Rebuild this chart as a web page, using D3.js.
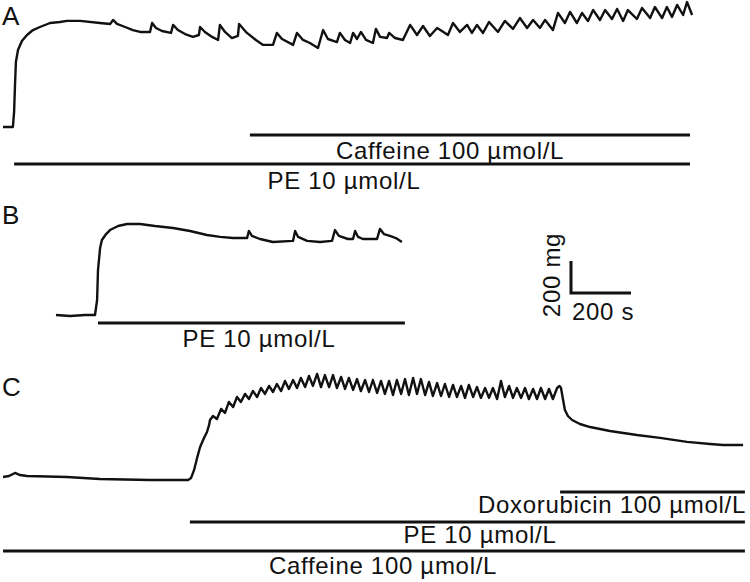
<!DOCTYPE html>
<html>
<head>
<meta charset="utf-8">
<script src="https://cdn.jsdelivr.net/npm/d3@7"></script>
<style>
  body { margin: 0; background: #fff; }
  text { font-family: "Liberation Sans", Arial, sans-serif; fill: #111; }
</style>
</head>
<body>
<svg id="fig" width="750" height="582"></svg>
<script>
// tension traces, [time (s), tension above resting baseline (mg)]
const traceA = [
    [0,0],[33,0],[37,94],[40,262],[43,406],[50,481],[63,538],[80,575],[100,606],[123,625],
    [157,650],[190,656],[213,663],[257,663],[323,650],[357,644],[367,669],[380,644],[407,625],[433,606],
    [457,594],[490,594],[497,650],[510,619],[530,600],[560,588],[567,638],[583,606],[607,581],[633,563],
    [653,575],[657,625],[673,594],[697,563],[717,544],[723,638],[740,594],[763,556],[783,569],[787,644],
    [813,588],[843,544],[867,513],[900,513],[913,588],[930,550],[967,513],[980,588],[1000,544],[1023,525],
    [1050,494],[1067,606],[1083,550],[1113,531],[1123,588],[1140,544],[1157,525],[1167,588],[1180,550],[1193,594],
    [1210,544],[1233,525],[1243,613],[1257,563],[1280,556],[1287,588],[1307,556],[1333,544],[1357,638],[1380,575],
    [1400,631],[1423,569],[1447,619],[1463,600],[1483,575],[1500,650],[1523,594],[1547,638],[1563,588],[1580,638],
    [1600,588],[1620,656],[1650,594],[1673,663],[1700,613],[1723,681],[1747,619],[1767,669],[1790,619],[1807,669],
    [1833,606],[1850,713],[1873,650],[1890,719],[1913,650],[1930,713],[1950,663],[1967,731],[1990,669],[2007,731],
    [2030,675],[2047,738],[2067,663],[2083,731],[2113,675],[2130,744],[2157,681],[2173,750],[2197,681],[2213,750],
    [2230,688],[2247,763],[2267,700],[2280,781],[2297,700]
];

const traceB = [
    [0,0],[47,-6],[97,0],[130,0],[137,94],[140,281],[147,419],[153,469],[167,506],[180,531],
    [207,556],[237,569],[280,569],[330,556],[390,544],[447,525],[503,500],[547,488],[590,481],[637,481],
    [643,525],[653,494],[680,475],[723,456],[790,463],[797,525],[807,488],[837,463],[880,456],[920,463],
    [930,531],[943,494],[973,475],[990,475],[997,525],[1007,488],[1023,475],[1070,475],[1080,538],[1093,506],
    [1113,494],[1133,481],[1153,456]
];

const traceC = [
    [0,19],[20,25],[40,44],[57,31],[80,25],[213,19],[323,6],[490,0],[617,0],[627,13],
    [637,63],[647,138],[657,206],[670,263],[680,300],[687,344],[690,375],
    [700,400],[713,381],[727,444],[740,419],[753,488],[767,456],[780,519],[793,488],
    [807,538],[820,506],[833,556],[847,519],[860,575],[873,538],[887,588],[900,550],
    [913,600],[927,556],[940,619],[953,569],[967,625],[980,575],[993,638],[1007,581],
    [1020,650],[1033,588],[1047,663],[1060,581],[1073,656],[1087,581],[1100,656],[1113,575],
    [1127,644],[1140,569],[1153,638],[1167,563],[1180,631],[1193,556],[1207,625],[1220,550],
    [1233,625],[1247,544],[1260,619],[1273,538],[1287,619],[1300,531],[1313,625],[1327,538],
    [1340,631],[1353,531],[1367,638],[1380,538],[1393,631],[1407,531],[1420,613],[1433,525],
    [1447,606],[1460,525],[1473,600],[1487,519],[1500,594],[1513,519],[1527,588],[1540,513],
    [1553,594],[1567,519],[1580,581],[1593,513],[1607,575],[1620,513],[1633,575],[1647,506],
    [1660,619],[1673,519],[1687,588],[1700,513],[1713,575],[1727,513],[1740,575],[1753,506],
    [1767,569],[1780,506],[1793,575],[1807,506],[1820,569],[1833,506],[1847,575],[1855,588],
    [1860,575],[1867,500],[1873,438],[1883,400],[1897,375],[1923,350],[1957,331],[2023,306],
    [2113,281],[2190,263],[2280,238],[2357,225],[2400,219],[2467,219]
];

// drug applications: label, start (s), end (s)
const drugsA = [["Caffeine 100 µmol/L", 823, 2290], ["PE 10 µmol/L", 37, 2290]];
const drugsB = [["PE 10 µmol/L", 140, 1163]];
const drugsC = [["Doxorubicin 100 µmol/L", 1857, 2473], ["PE 10 µmol/L", 623, 2473], ["Caffeine 100 µmol/L", 0, 2473]];

const panelNames = ["A", "B", "C"];
const scaleTime = 200;     // s
const scaleTension = 200;  // mg

const pxPerSec = 0.3, pxPerMg = 0.16;

// layout: trace origin, drug bar rows and label placement
const panels = [
    {name: panelNames[0], trace: traceA, drugs: drugsA, x0: 3, yBase: 127, nameY: 25,
     barY: [135, 164], textX: [450, 344], textY: [159, 189], anchor: ["middle", "middle"]},
    {name: panelNames[1], trace: traceB, drugs: drugsB, x0: 56, yBase: 315, nameY: 224,
     barY: [323], textX: [259], textY: [347], anchor: ["middle"]},
    {name: panelNames[2], trace: traceC, drugs: drugsC, x0: 3, yBase: 480, nameY: 396,
     barY: [492, 522, 551], textX: [746, 480, 383], textY: [513, 543, 574], anchor: ["end", "middle", "middle"]}
];

const svg = d3.select("#fig");

panels.forEach(p => {
    const x = d3.scaleLinear().domain([0, 1000]).range([p.x0, p.x0 + 1000 * pxPerSec]);
    const y = d3.scaleLinear().domain([0, 1000]).range([p.yBase, p.yBase - 1000 * pxPerMg]);
    const g = svg.append("g").attr("class", "panel-" + p.name);

    g.append("text")
        .attr("x", 2).attr("y", p.nameY)
        .style("font-size", "26px")
        .text(p.name);

    g.append("path")
        .datum(p.trace)
        .attr("fill", "none")
        .attr("stroke", "#111")
        .attr("stroke-width", 2.4)
        .attr("stroke-linejoin", "round")
        .attr("d", d3.line().x(d => x(d[0])).y(d => y(d[1])));

    p.drugs.forEach((d, i) => {
        g.append("line")
            .attr("x1", x(d[1])).attr("x2", x(d[2]))
            .attr("y1", p.barY[i]).attr("y2", p.barY[i])
            .attr("stroke", "#111")
            .attr("stroke-width", 3);
        g.append("text")
            .attr("x", p.textX[i]).attr("y", p.textY[i])
            .attr("text-anchor", p.anchor[i])
            .style("font-size", "24px")
            .style("letter-spacing", "0.7px")
            .text(d[0]);
    });
});

// scale bar
const sx = d3.scaleLinear().domain([0, scaleTime]).range([571, 571 + scaleTime * pxPerSec]);
const sy = d3.scaleLinear().domain([0, scaleTension]).range([293, 293 - scaleTension * pxPerMg]);
const sb = svg.append("g").attr("class", "scale-bar");
sb.append("path")
    .attr("fill", "none")
    .attr("stroke", "#111")
    .attr("stroke-width", 3)
    .attr("d", `M${sx(0)},${sy(scaleTension)}V${sy(0)}H${sx(scaleTime)}`);
sb.append("text")
    .attr("transform", `translate(${sx(0) - 11},${sy(0) - 18}) rotate(-90)`)
    .attr("text-anchor", "middle")
    .style("font-size", "24px")
    .style("letter-spacing", "0.7px")
    .text(scaleTension + " mg");
sb.append("text")
    .attr("x", sx(0) + 1).attr("y", 320)
    .style("font-size", "24px")
    .style("letter-spacing", "0.7px")
    .text(scaleTime + " s");
</script>
</body>
</html>
